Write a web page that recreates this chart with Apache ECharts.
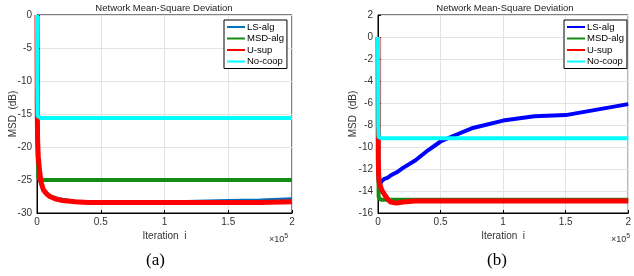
<!DOCTYPE html>
<html>
<head>
<meta charset="utf-8">
<script src="https://cdn.jsdelivr.net/npm/echarts@6/dist/echarts.min.js"></script>
<style>
  html, body { margin: 0; padding: 0; background: #fff; }
  #chart { width: 634px; height: 276px; }
</style>
</head>
<body>
<div id="chart"></div>
<script>
  // iterations, in units of 1e5
  const iters = [0, 0.002, 0.005, 0.01, 0.02, 0.03, 0.05, 0.075, 0.1, 0.15, 0.2, 0.3, 0.4, 0.5, 0.6, 0.75, 1.0, 1.25, 1.5, 1.75, 2.0]

  // (a) MSD in dB
  const lsAlgA  = [0, -14, -19, -22, -24.2, -25.4, -26.5, -27.0, -27.4, -27.8, -28.0, -28.3, -28.4, -28.4, -28.4, -28.4, -28.4, -28.3, -28.2, -28.1, -27.9]
  const msdAlgA = [0, -15, -21, -24.5, -25.0, -25.0, -25.0, -25.0, -25.0, -25.0, -25.0, -25.0, -25.0, -25.0, -25.0, -25.0, -25.0, -25.0, -25.0, -25.0, -25.0]
  const uSupA   = [0, -15, -19, -21.5, -23.5, -25.2, -26.5, -27.1, -27.5, -27.9, -28.1, -28.3, -28.4, -28.4, -28.4, -28.4, -28.4, -28.4, -28.4, -28.4, -28.3]
  const noCoopA = [0, -10, -15.3, -15.6, -15.6, -15.6, -15.6, -15.6, -15.6, -15.6, -15.6, -15.6, -15.6, -15.6, -15.6, -15.6, -15.6, -15.6, -15.6, -15.6, -15.6]

  // (b) MSD in dB
  const lsAlgB  = [0, -10, -13, -13.5, -13.3, -13.1, -12.9, -12.8, -12.6, -12.3, -11.9, -11.2, -10.3, -9.5, -9.0, -8.3, -7.6, -7.2, -7.1, -6.6, -6.1]
  const msdAlgB = [0, -10, -14.5, -14.7, -14.8, -14.8, -14.8, -14.8, -14.8, -14.8, -14.8, -14.8, -14.8, -14.8, -14.8, -14.8, -14.8, -14.8, -14.8, -14.8, -14.8]
  const uSupB   = [0, -11, -12.5, -13.2, -13.6, -13.9, -14.3, -14.7, -15.0, -15.1, -15.0, -14.9, -14.9, -14.9, -14.9, -14.9, -14.9, -14.9, -14.9, -14.9, -14.9]
  const noCoopB = [0, -8, -9.1, -9.2, -9.2, -9.2, -9.2, -9.2, -9.2, -9.2, -9.2, -9.2, -9.2, -9.2, -9.2, -9.2, -9.2, -9.2, -9.2, -9.2, -9.2]

  const names = ['LS-alg', 'MSD-alg', 'U-sup', 'No-coop']
  const colorsA = ['#0072BD', '#128C12', '#FF0000', '#00FFFF']
  const colorsB = ['#0000FF', '#128C12', '#FF0000', '#00FFFF']
  const xTicks = ['0', '0.5', '1', '1.5', '2']

  const font = 'Liberation Sans, Arial, sans-serif'
  const chart = echarts.init(document.getElementById('chart'), null, { renderer: 'canvas' })

  const pairs = (ys) => iters.map((x, i) => [x, ys[i]])

  function mkX(idx) {
    return {
      type: 'value', gridIndex: idx, min: 0, max: 2, interval: 0.5,
      name: 'Iteration  i', nameLocation: 'middle', nameGap: 18, nameMoveOverlap: false,
      nameTextStyle: { fontFamily: font, fontSize: 10, color: '#333' },
      axisLabel: { fontFamily: font, fontSize: 10, color: '#333', margin: 4,
        formatter: (v) => xTicks[Math.round(v / 0.5)] },
      axisLine: { onZero: false, lineStyle: { color: '#000' } },
      axisTick: { inside: true, length: 3, lineStyle: { color: '#000' } },
      splitLine: { show: true, lineStyle: { color: '#e3e3e3' } }
    }
  }
  function mkY(idx, min, max, interval, gap) {
    return {
      type: 'value', gridIndex: idx, min: min, max: max, interval: interval,
      name: 'MSD  (dB)', nameLocation: 'middle', nameGap: gap, nameRotate: 90, nameMoveOverlap: false,
      nameTextStyle: { fontFamily: font, fontSize: 10, color: '#333' },
      axisLabel: { fontFamily: font, fontSize: 10, color: '#333', margin: 5 },
      axisLine: { show: true, onZero: false, lineStyle: { color: '#000' } },
      axisTick: { show: true, inside: true, length: 3, lineStyle: { color: '#000' } },
      splitLine: { show: true, lineStyle: { color: '#e3e3e3' } }
    }
  }
  function mkSeries(idx, data, colors) {
    return data.map((ys, k) => ({
      name: names[k], type: 'line', xAxisIndex: idx, yAxisIndex: idx,
      data: pairs(ys), showSymbol: false, symbol: 'none', animation: false,
      lineStyle: { color: colors[k], width: k === 2 ? 5 : 4 },
      itemStyle: { color: colors[k] }
    }))
  }
  function mkLegend(left, colors) {
    return {
      orient: 'vertical', left: left, top: 20, padding: [2, 3, 2, 3], itemGap: 1.5,
      backgroundColor: '#fff', borderColor: '#000', borderWidth: 1,
      icon: 'rect', itemWidth: 18, itemHeight: 2,
      textStyle: { fontFamily: font, fontSize: 9.5, color: '#000', padding: [0, 0, 0, -3] },
      selectedMode: false,
      data: names.map((n, k) => ({ name: n, itemStyle: { color: colors[k] } }))
    }
  }

  chart.setOption({
    animation: false,
    title: [
      { text: 'Network Mean-Square Deviation', left: 164, top: 3, padding: 0, textAlign: 'center',
        textStyle: { fontFamily: font, fontSize: 9.5, fontWeight: 'normal', color: '#222' } },
      { text: 'Network Mean-Square Deviation', left: 505, top: 3, padding: 0, textAlign: 'center',
        textStyle: { fontFamily: font, fontSize: 9.5, fontWeight: 'normal', color: '#222' } }
    ],
    grid: [
      { left: 37, right: 342, top: 15, bottom: 63, show: true, borderColor: '#000', borderWidth: 1 },
      { left: 378, right: 1, top: 15, bottom: 63, show: true, borderColor: '#000', borderWidth: 1 }
    ],
    legend: [mkLegend(224, colorsA), mkLegend(564, colorsB)],
    xAxis: [mkX(0), mkX(1)],
    yAxis: [mkY(0, -30, 0, 5, 19), mkY(1, -16, 2, 2, 20)],
    series: [
      ...mkSeries(0, [lsAlgA, msdAlgA, uSupA, noCoopA], colorsA),
      ...mkSeries(1, [lsAlgB, msdAlgB, uSupB, noCoopB], colorsB)
    ],
    graphic: [
      { type: 'text', left: 269, top: 233, style: { text: '×10{s|5}', fill: '#333',
        font: '9px ' + font, rich: { s: { fontSize: 7, verticalAlign: 'top', padding: [0, 0, 6, 0] } } } },
      { type: 'text', left: 611, top: 233, style: { text: '×10{s|5}', fill: '#333',
        font: '9px ' + font, rich: { s: { fontSize: 7, verticalAlign: 'top', padding: [0, 0, 6, 0] } } } },
      { type: 'text', left: 146, top: 252, style: { text: '(a)', fill: '#000',
        font: '17px "Liberation Serif", "Times New Roman", serif' } },
      { type: 'text', left: 487, top: 252, style: { text: '(b)', fill: '#000',
        font: '17px "Liberation Serif", "Times New Roman", serif' } }
    ]
  })

  window.addEventListener('resize', () => {
    chart && chart.resize()
  })
</script>
</body>
</html>
